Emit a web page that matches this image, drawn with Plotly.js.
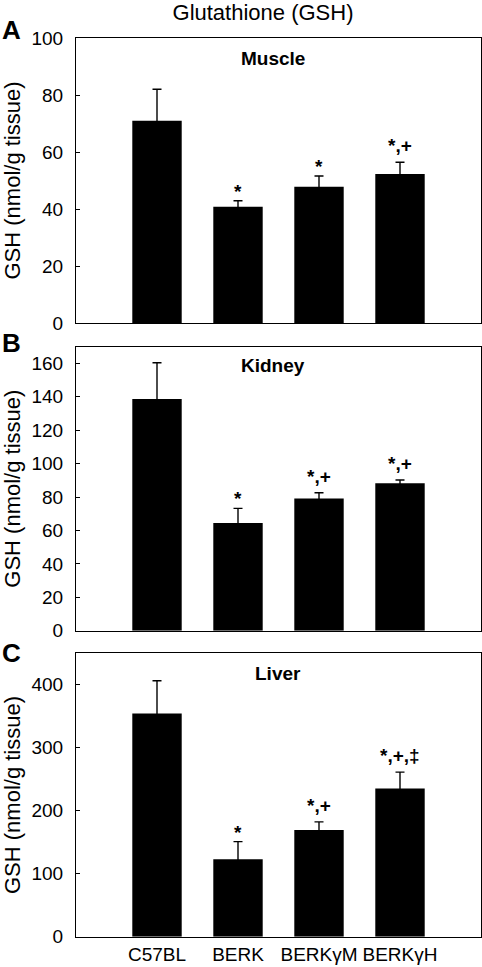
<!DOCTYPE html>
<html>
<head>
<meta charset="utf-8">
<script src="https://cdn.plot.ly/plotly-3.0.1.min.js"></script>
<style>html,body{margin:0;padding:0;background:#fff;}#chart{width:482px;height:967px;}</style>
</head>
<body>
<div id="chart"></div>
<script>
const categories = ['C57BL', 'BERK', 'BERK\u03B3M', 'BERK\u03B3H'];
const muscleMean = [71, 40.8, 47.8, 52.3];
const muscleSE = [11, 2.1, 3.8, 4.1];
const muscleSig = ['', '*', '*', '*,+'];
const kidneyMean = [138.7, 64.4, 79.2, 88.2];
const kidneySE = [21.7, 8.8, 3.4, 2.0];
const kidneySig = ['', '*', '*,+', '*,+'];
const liverMean = [354.5, 123, 169.6, 235.3];
const liverSE = [52, 28, 12.8, 26.1];
const liverSig = ['', '*', '*,+', '*,+,\u2021'];
const panelTitles = ['Muscle', 'Kidney', 'Liver'];
const panelLetters = ['A', 'B', 'C'];
const yRanges = [[0, 100], [0, 170], [0, 450]];
const yDticks = [20, 20, 100];

const FONT = 'Liberation Sans, Arial, Helvetica, sans-serif';
const W = 482, H = 967;
const px = v => v / W;
const py = v => 1 - v / H;
const panelsPx = [[38, 323], [346.7, 630.7], [653.3, 936.7]];
const means = [muscleMean, kidneyMean, liverMean];
const ses = [muscleSE, kidneySE, liverSE];
const sigs = [muscleSig, kidneySig, liverSig];
const titleY = [59, 365, 673];
const titleX = [273, 273, 277.5];
const letterY = [30, 343, 653];

const traces = [];
const annotations = [];
const layout = {
  width: W, height: H,
  margin: {l: 0, r: 0, t: 0, b: 0},
  paper_bgcolor: '#fff', plot_bgcolor: '#fff',
  showlegend: false,
  font: {family: FONT, color: '#000', size: 19},
  title: {text: 'Glutathione (GSH)', font: {family: FONT, size: 22, color: '#000'},
          x: 263 / W, xanchor: 'center', y: 1 - 12.5 / H, yanchor: 'middle', xref: 'paper', yref: 'container'}
};

for (let i = 0; i < 3; i++) {
  const sfx = i === 0 ? '' : String(i + 1);
  traces.push({
    type: 'bar', x: categories, y: means[i],
    xaxis: 'x' + sfx, yaxis: 'y' + sfx,
    marker: {color: '#000', line: {width: 0}},
    width: 0.61,
    error_y: {type: 'data', array: ses[i], symmetric: true,
              color: '#000', thickness: 1.4, width: 4.5},
    hoverinfo: 'none'
  });
  const [top, bot] = panelsPx[i];
  layout['xaxis' + sfx] = {
    domain: [px(76), px(481)], anchor: 'y' + sfx,
    type: 'category', range: [-1, 4],
    showline: true, mirror: true, linecolor: '#000', linewidth: 1,
    ticks: '', showgrid: false, zeroline: false,
    showticklabels: i === 2,
    tickfont: {family: FONT, size: 19, color: '#000'}
  };
  layout['yaxis' + sfx] = {
    domain: [py(bot), py(top)], anchor: 'x' + sfx,
    range: yRanges[i], dtick: yDticks[i], tick0: 0,
    showline: true, mirror: true, linecolor: '#000', linewidth: 1,
    ticks: 'inside', ticklen: 4, tickwidth: 1, tickcolor: '#000',
    showgrid: false, zeroline: false,
    ticklabelstandoff: 8,
    tickfont: {family: FONT, size: 19, color: '#000'},
    title: {text: 'GSH (nmol/g tissue)', font: {family: FONT, size: 22, color: '#000'}, standoff: 10}
  };
  annotations.push({
    xref: 'paper', yref: 'paper', x: px(titleX[i]), y: py(titleY[i]),
    xanchor: 'center', yanchor: 'middle', showarrow: false,
    text: '<b>' + panelTitles[i] + '</b>', font: {family: FONT, size: 19, color: '#000'}
  });
  annotations.push({
    xref: 'paper', yref: 'paper', x: px(0), y: py(letterY[i]),
    xanchor: 'left', yanchor: 'middle', showarrow: false,
    text: '<b>' + panelLetters[i] + '</b>', font: {family: FONT, size: 26, color: '#000'}
  });
  for (let j = 0; j < categories.length; j++) {
    const s = sigs[i][j];
    if (!s) continue;
    annotations.push({
      xref: 'x' + sfx, yref: 'y' + sfx, x: categories[j], y: means[i][j] + ses[i][j],
      xanchor: 'center', yanchor: 'bottom', yshift: s.length > 1 ? 4 : -3, showarrow: false,
      text: '<b>' + s + '</b>', font: {family: FONT, size: 19, color: '#000'}
    });
  }
}
layout.annotations = annotations;

Plotly.newPlot('chart', traces, layout, {staticPlot: true, displayModeBar: false});
</script>
</body>
</html>
